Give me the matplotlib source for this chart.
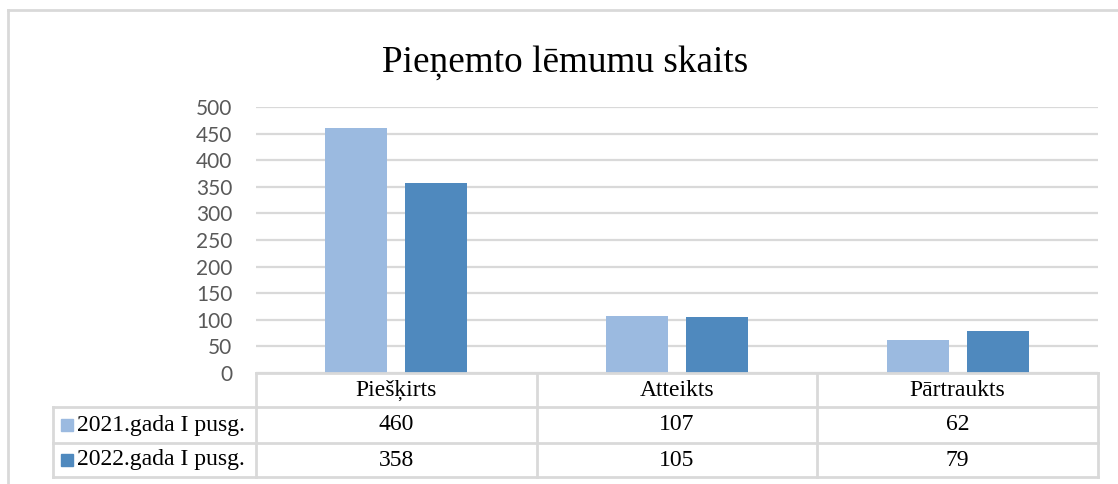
import matplotlib
matplotlib.use("Agg")
import matplotlib.pyplot as plt
from matplotlib.lines import Line2D
from matplotlib.patches import Rectangle

title = "Pieņemto lēmumu skaits"
categories = ["Piešķirts", "Atteikts", "Pārtraukts"]
series_names = ["2021.gada I pusg.", "2022.gada I pusg."]
values_2021 = [460, 107, 62]
values_2022 = [358, 105, 79]
yticks = [0, 50, 100, 150, 200, 250, 300, 350, 400, 450, 500]

colors = ["#9BBAE0", "#4F89BE"]
grid_color = "#D9D9D9"
serif = ["Liberation Serif", "DejaVu Serif"]

W, H = 1118, 484
fig = plt.figure(figsize=(W / 100, H / 100), dpi=100)

# plot area in pixels: x 256..1098, y 107..373
left, right, top, bottom = 256, 1098, 107, 373
ax = fig.add_axes([left / W, 1 - bottom / H, (right - left) / W, (bottom - top) / H])

xs = [i + 0.5 for i in range(len(categories))]
bw = 0.221
off = 0.142
ax.bar([x - off for x in xs], values_2021, width=bw, color=colors[0], zorder=3)
ax.bar([x + off for x in xs], values_2022, width=bw, color=colors[1], zorder=3)

ax.set_xlim(0, len(categories))
ax.set_ylim(0, 500)
ax.set_yticks(yticks)
ax.set_xticks([])
ax.tick_params(axis="y", length=0, pad=17, labelcolor="#595959", labelsize=15)
for lab in ax.get_yticklabels():
    lab.set_fontfamily(["Lato", "DejaVu Sans"])
ax.yaxis.grid(True, color=grid_color, lw=1.6, zorder=0)
for s in ax.spines.values():
    s.set_visible(False)

# data table below the axes
ph = bottom - top
pw = right - left

def fy(py):
    return -(py - bottom) / ph

def fx(px):
    return (px - left) / pw

rows = [373, 407, 443, 477]
tbl_left = 53
tr = ax.transAxes
lines = []
# horizontal lines
lines.append(([0, 1], [fy(rows[0])] * 2))
for r in rows[1:]:
    lines.append(([fx(tbl_left), 1], [fy(r)] * 2))
# vertical lines
for i in range(len(categories) + 1):
    x = i / len(categories)
    lines.append(([x, x], [fy(rows[0]), fy(rows[-1])]))
lines.append(([fx(tbl_left)] * 2, [fy(rows[1]), fy(rows[-1])]))
for lx, ly in lines:
    ax.add_line(Line2D(lx, ly, transform=tr, color=grid_color, lw=2, clip_on=False, zorder=4))

fs = 17
ctr = [(rows[i] + rows[i + 1]) / 2 for i in range(3)]
for i, c in enumerate(categories):
    ax.text((i + 0.5) / len(categories), fy(ctr[0]), c, transform=tr, ha="center", va="center",
            fontsize=fs, family=serif)
for j, (name, vals) in enumerate(zip(series_names, [values_2021, values_2022])):
    yc = fy(ctr[j + 1])
    sq = 12
    ax.add_patch(Rectangle((fx(61), yc - sq / 2 / ph), sq / pw, sq / ph, transform=tr,
                           color=colors[j], clip_on=False, zorder=5))
    ax.text(fx(77), yc, name, transform=tr, ha="left", va="center", fontsize=fs, family=serif)
    for i, v in enumerate(vals):
        ax.text((i + 0.5) / len(categories), yc, str(v), transform=tr, ha="center", va="center",
                fontsize=fs, family=serif)

# chart frame (left and top edges visible)
fig.add_artist(Line2D([8 / W, 8 / W], [0, 1 - 10 / H], color=grid_color, lw=2))
fig.add_artist(Line2D([8 / W, 1], [1 - 10 / H, 1 - 10 / H], color=grid_color, lw=2))

fig.text(565 / W, 1 - 72 / H, title, ha="center", va="baseline", fontsize=26.8, family=serif)

fig.savefig("out.png", dpi=100)
